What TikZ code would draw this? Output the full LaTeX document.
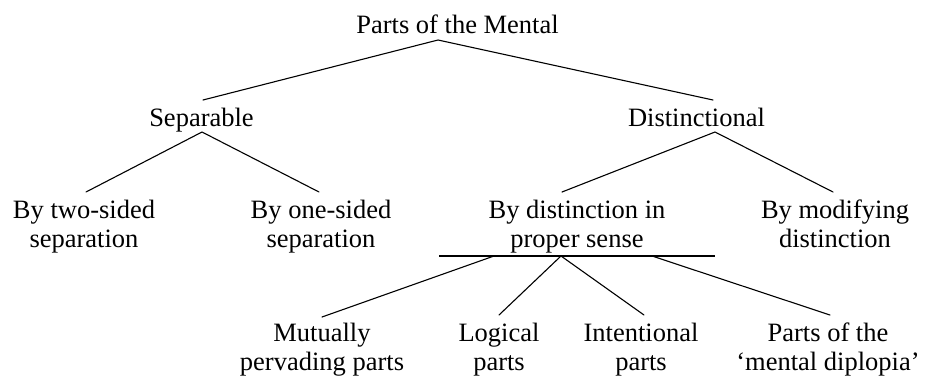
\documentclass[tikz,border=0pt]{standalone}
\usepackage{fontspec}
\setmainfont{Liberation Serif}
\begin{document}
\begin{tikzpicture}[x=1pt,y=-1pt,
  lbl/.style={inner sep=0pt, anchor=base, font=\fontsize{26.5}{29}\selectfont},
  edge/.style={line width=1.1pt, line cap=round},
  bar/.style={line width=2pt}]
\useasboundingbox (0,0) rectangle (926,378);
% labels
\node[lbl] (root) at (457.5,33) {Parts of the Mental};
\node[lbl] (sep) at (201.5,126) {Separable};
\node[lbl] (dist) at (696.5,126) {Distinctional};
\node[lbl] (two) at (84,218) {\begin{tabular}[t]{@{}c@{}}By two-sided\\separation\end{tabular}};
\node[lbl] (one) at (321,218) {\begin{tabular}[t]{@{}c@{}}By one-sided\\separation\end{tabular}};
\node[lbl] (prop) at (577,218) {\begin{tabular}[t]{@{}c@{}}By distinction in\\proper sense\end{tabular}};
\node[lbl] (modi) at (835,218) {\begin{tabular}[t]{@{}c@{}}By modifying\\distinction\end{tabular}};
\node[lbl] (mutu) at (322,341) {\begin{tabular}[t]{@{}c@{}}Mutually\\pervading parts\end{tabular}};
\node[lbl] (logi) at (499,341) {\begin{tabular}[t]{@{}c@{}}Logical\\parts\end{tabular}};
\node[lbl] (inte) at (641,341) {\begin{tabular}[t]{@{}c@{}}Intentional\\parts\end{tabular}};
\node[lbl] (dipl) at (828,341) {\begin{tabular}[t]{@{}c@{}}Parts of the\\`mental diplopia'\end{tabular}};
% attachment points
\coordinate (rootb) at (438,40);
\coordinate (sept) at (203,100);
\coordinate (sepb) at (202,132);
\coordinate (distt) at (713,100);
\coordinate (distb) at (715,132);
\coordinate (twot) at (86,192);
\coordinate (onet) at (319,192);
\coordinate (propt) at (562,192);
\coordinate (modit) at (833,192);
\coordinate (barl) at (439,256);
\coordinate (barr) at (715,256);
\coordinate (barA) at (494,256);
\coordinate (barB) at (561,256);
\coordinate (barC) at (652,256);
\coordinate (mutut) at (322,317);
\coordinate (logit) at (499,315);
\coordinate (intet) at (644,315);
\coordinate (diplt) at (830,315);
% connectors
\draw[edge] (sept) -- (rootb) -- (distt);
\draw[edge] (twot) -- (sepb) -- (onet);
\draw[edge] (propt) -- (distb) -- (modit);
\draw[bar] (barl) -- (barr);
\draw[edge] (barA) -- (mutut);
\draw[edge] (logit) -- (barB) -- (intet);
\draw[edge] (barC) -- (diplt);
\end{tikzpicture}
\end{document}
